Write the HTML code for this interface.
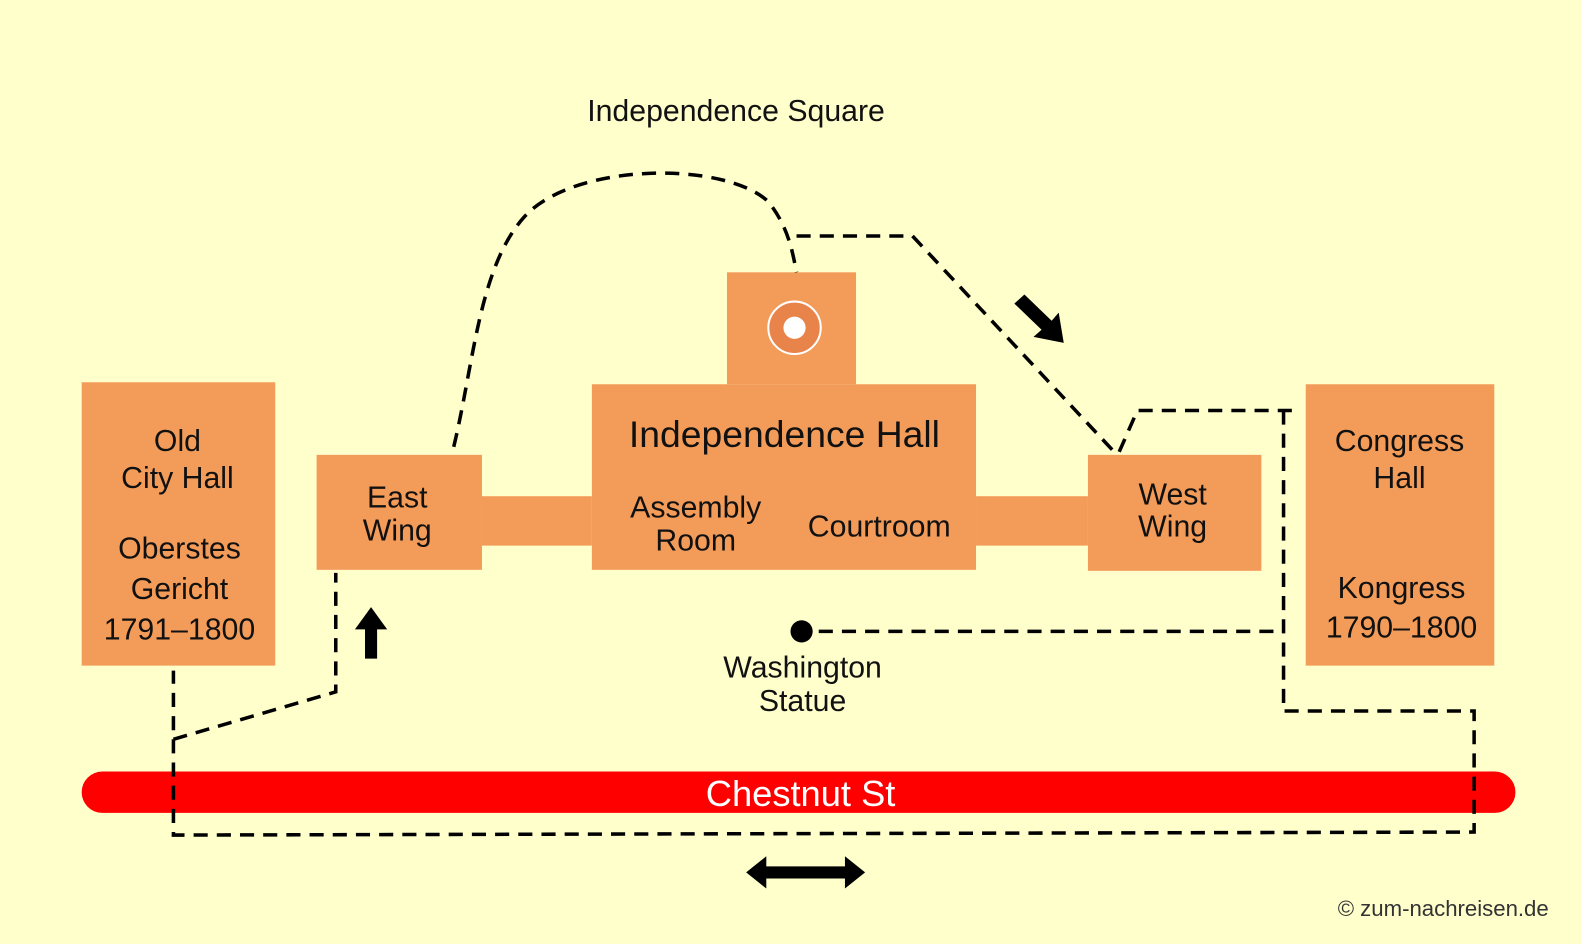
<!DOCTYPE html>
<html><head><style>
body{margin:0;background:#FFFFCC;}
svg{display:block}
text{font-family:"Liberation Sans",sans-serif;fill:#111}
</style></head><body>
<svg width="1581" height="944" viewBox="0 0 1568 936" preserveAspectRatio="none">
<rect x="0" y="0" width="1568" height="936" fill="#FFFFCC"/>
<g fill="#F39C5A">
<rect x="81" y="379" width="192" height="281"/>
<rect x="314" y="451" width="164" height="114"/>
<rect x="478" y="492" width="109" height="49"/>
<rect x="587" y="381" width="381" height="184"/>
<rect x="721" y="270" width="128" height="111"/>
<rect x="968" y="492" width="111" height="49"/>
<rect x="1079" y="451" width="172" height="115"/>
<rect x="1295" y="381" width="187" height="279"/>
</g>
<rect x="81" y="765" width="1422" height="41" rx="20.5" fill="#FF0000"/>
<circle cx="788" cy="325" r="26" fill="#E8844A" stroke="#fff" stroke-width="2"/>
<circle cx="788" cy="325" r="11" fill="#fff"/>
<g fill="none" stroke="#000" stroke-width="3.5" stroke-dasharray="14,9">
<path d="M450,443 C470,360 475,265 520,215 C570,160 720,160 762,200 C782,225 786,250 790,270"/>
<path d="M790,234 L905,234 L1105,448"/>
<path d="M1110,448 L1128,407 L1290,407"/>
<path d="M1273,407 L1273,705 L1462,705 L1462,825 L172,828 L172,665"/>
<path d="M172,733 L333,686 L333,568"/>
<path d="M812,626 L1270,626"/>
</g>
<circle cx="795" cy="626" r="11" fill="#000"/>
<polygon points="368,602 384,624 374,624 374,653 362,653 362,624 352,624" fill="#000"/>
<polygon points="1016,292 1043,318 1050,310 1055,340 1025,334 1033,327 1006,301" fill="#000"/>
<polygon points="740,865 760,849 760,859 838,859 838,849 858,865 838,881 838,871 760,871 760,881" fill="#000"/>
<g font-size="30" text-anchor="middle">
<text x="730" y="120">Independence Square</text>
<text x="176" y="447">Old</text>
<text x="176" y="484">City Hall</text>
<text x="178" y="554">Oberstes</text>
<text x="178" y="594">Gericht</text>
<text x="178" y="634">1791–1800</text>
<text x="394" y="503">East</text>
<text x="394" y="536">Wing</text>
<text x="778" y="443" font-size="37">Independence Hall</text>
<text x="690" y="513">Assembly</text>
<text x="690" y="546">Room</text>
<text x="872" y="532">Courtroom</text>
<text x="1163" y="500">West</text>
<text x="1163" y="532">Wing</text>
<text x="1388" y="447">Congress</text>
<text x="1388" y="484">Hall</text>
<text x="1390" y="593">Kongress</text>
<text x="1390" y="632">1790–1800</text>
<text x="796" y="672">Washington</text>
<text x="796" y="705">Statue</text>
<text x="794" y="799" font-size="36" style="fill:#fff">Chestnut St</text>
</g>
<text x="1536" y="908" font-size="22" text-anchor="end" style="fill:#333">© zum-nachreisen.de</text>
</svg>
</body></html>
